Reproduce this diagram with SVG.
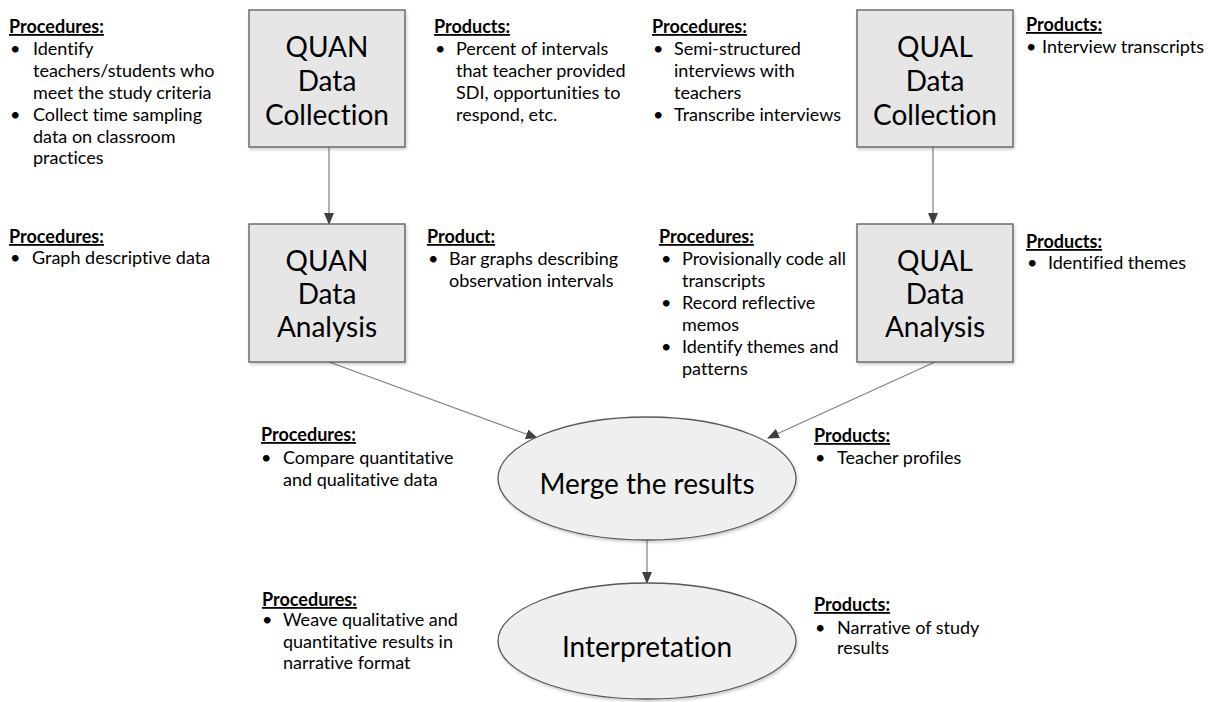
<svg xmlns="http://www.w3.org/2000/svg" width="1220" height="702" viewBox="0 0 1220 702">
<style>
.t{font-family:Lato,"Liberation Sans",sans-serif;font-size:18px;fill:#000;font-variant-ligatures:none}
.h{font-family:Lato,"Liberation Sans",sans-serif;font-size:18px;font-weight:bold;text-decoration:underline;fill:#000}
.big{font-family:Lato,"Liberation Sans",sans-serif;font-size:28px;fill:#000;text-anchor:middle;font-variant-ligatures:none}
.box{fill:#e7e6e6;stroke:#595959;stroke-width:1.3}
.ell{fill:#efefef;stroke:#595959;stroke-width:1.3}
.con{stroke:#7f7f7f;stroke-width:1.2;fill:none}
</style>
<defs>
<marker id="arr" markerWidth="12" markerHeight="10" refX="11" refY="5" orient="auto" markerUnits="userSpaceOnUse">
<path d="M0,0 L12,5 L0,10 Z" fill="#404040"/>
</marker>
<filter id="sh" x="-10%" y="-10%" width="130%" height="130%">
<feDropShadow dx="1" dy="2" stdDeviation="1.5" flood-color="#000" flood-opacity="0.2"/>
</filter>
</defs>

<g id="connectors">
<line class="con" x1="329" y1="147" x2="329" y2="224" marker-end="url(#arr)"/>
<line class="con" x1="933" y1="147" x2="933" y2="224" marker-end="url(#arr)"/>
<line class="con" x1="329" y1="362" x2="537" y2="438" marker-end="url(#arr)"/>
<line class="con" x1="935" y1="362" x2="768" y2="438" marker-end="url(#arr)"/>
<line class="con" x1="647" y1="540" x2="647" y2="583" marker-end="url(#arr)"/>
</g>

<g id="quan-collection">
<rect class="box" x="249" y="10" width="156" height="137" filter="url(#sh)"/>
<text class="big" x="327" y="57">QUAN</text>
<text class="big" x="327" y="91">Data</text>
<text class="big" x="327" y="125">Collection</text>
</g>
<g id="quan-analysis">
<rect class="box" x="249" y="224" width="156" height="138" filter="url(#sh)"/>
<text class="big" x="327" y="271">QUAN</text>
<text class="big" x="327" y="304">Data</text>
<text class="big" x="327" y="337">Analysis</text>
</g>
<g id="qual-collection">
<rect class="box" x="857" y="10" width="156" height="137" filter="url(#sh)"/>
<text class="big" x="935" y="57">QUAL</text>
<text class="big" x="935" y="91">Data</text>
<text class="big" x="935" y="125">Collection</text>
</g>
<g id="qual-analysis">
<rect class="box" x="857" y="224" width="156" height="138" filter="url(#sh)"/>
<text class="big" x="935" y="271">QUAL</text>
<text class="big" x="935" y="304">Data</text>
<text class="big" x="935" y="337">Analysis</text>
</g>
<g id="merge">
<ellipse class="ell" cx="647" cy="478.5" rx="149" ry="61.5" filter="url(#sh)"/>
<text class="big" x="647" y="494">Merge the results</text>
</g>
<g id="interpretation">
<ellipse class="ell" cx="647" cy="641" rx="149" ry="58" filter="url(#sh)"/>
<text class="big" x="647" y="657">Interpretation</text>
</g>

<g id="quan-collection-procedures">
<text class="h" x="9" y="33">Procedures:</text>
<text class="t" x="10" y="55">•</text><text class="t" x="33" y="55">Identify</text>
<text class="t" x="33" y="77">teachers/students who</text>
<text class="t" x="33" y="99">meet the study criteria</text>
<text class="t" x="10" y="121">•</text><text class="t" x="33" y="121">Collect time sampling</text>
<text class="t" x="33" y="143">data on classroom</text>
<text class="t" x="33" y="164">practices</text>
</g>
<g id="quan-collection-products">
<text class="h" x="434" y="33">Products:</text>
<text class="t" x="435" y="55">•</text><text class="t" x="456" y="55">Percent of intervals</text>
<text class="t" x="456" y="77">that teacher provided</text>
<text class="t" x="456" y="99">SDI, opportunities to</text>
<text class="t" x="456" y="121">respond, etc.</text>
</g>
<g id="qual-collection-procedures">
<text class="h" x="652" y="33">Procedures:</text>
<text class="t" x="653" y="55">•</text><text class="t" x="674" y="55">Semi-structured</text>
<text class="t" x="674" y="77">interviews with</text>
<text class="t" x="674" y="99">teachers</text>
<text class="t" x="653" y="121">•</text><text class="t" x="674" y="121">Transcribe interviews</text>
</g>
<g id="qual-collection-products">
<text class="h" x="1026" y="31">Products:</text>
<text class="t" x="1026" y="53">•</text><text class="t" x="1042" y="53">Interview transcripts</text>
</g>

<g id="quan-analysis-procedures">
<text class="h" x="9" y="243">Procedures:</text>
<text class="t" x="10" y="264">•</text><text class="t" x="32" y="264">Graph descriptive data</text>
</g>
<g id="quan-analysis-product">
<text class="h" x="427" y="243">Product:</text>
<text class="t" x="428" y="265">•</text><text class="t" x="449" y="265">Bar graphs describing</text>
<text class="t" x="449" y="287">observation intervals</text>
</g>
<g id="qual-analysis-procedures">
<text class="h" x="659" y="243">Procedures:</text>
<text class="t" x="661" y="265">•</text><text class="t" x="682" y="265">Provisionally code all</text>
<text class="t" x="682" y="287">transcripts</text>
<text class="t" x="661" y="309">•</text><text class="t" x="682" y="309">Record reflective</text>
<text class="t" x="682" y="331">memos</text>
<text class="t" x="661" y="353">•</text><text class="t" x="682" y="353">Identify themes and</text>
<text class="t" x="682" y="375">patterns</text>
</g>
<g id="qual-analysis-products">
<text class="h" x="1026" y="248">Products:</text>
<text class="t" x="1027" y="269">•</text><text class="t" x="1048" y="269">Identified themes</text>
</g>

<g id="merge-procedures">
<text class="h" x="261" y="441">Procedures:</text>
<text class="t" x="261" y="464">•</text><text class="t" x="283" y="464">Compare quantitative</text>
<text class="t" x="283" y="486">and qualitative data</text>
</g>
<g id="merge-products">
<text class="h" x="814" y="442">Products:</text>
<text class="t" x="815" y="464">•</text><text class="t" x="837" y="464">Teacher profiles</text>
</g>

<g id="interpretation-procedures">
<text class="h" x="262" y="606">Procedures:</text>
<text class="t" x="262" y="626">•</text><text class="t" x="283" y="626">Weave qualitative and</text>
<text class="t" x="283" y="648">quantitative results in</text>
<text class="t" x="283" y="669">narrative format</text>
</g>
<g id="interpretation-products">
<text class="h" x="814" y="611">Products:</text>
<text class="t" x="815" y="634">•</text><text class="t" x="837" y="634">Narrative of study</text>
<text class="t" x="837" y="654">results</text>
</g>
</svg>
